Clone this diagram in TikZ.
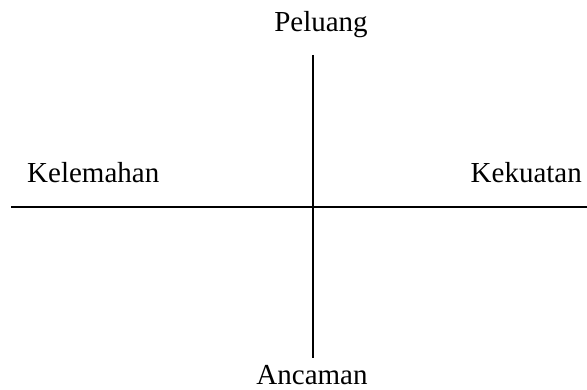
\documentclass[tikz,border=0pt]{standalone}
\usepackage{fontspec}
\setmainfont{Liberation Serif}
\begin{document}
\begin{tikzpicture}[x=1pt,y=1pt,
  lbl/.style={inner sep=0pt,font=\fontsize{29}{34}\selectfont},
  axis/.style={line width=2.2pt}]
\useasboundingbox (0,0) rectangle (587,390);
\node[lbl,anchor=base] (pel) at (321,358) {Peluang};
\node[lbl,anchor=base west] (kel) at (27,207) {Kelemahan};
\node[lbl,anchor=base east] (kek) at (582,207) {Kekuatan};
\node[lbl,anchor=base] (anc) at (312,5) {Ancaman};
\coordinate (vt) at (313,335);
\coordinate (vb) at (313,32);
\coordinate (hl) at (11,183);
\coordinate (hr) at (587,183);
\draw[axis] (vt) -- (vb);
\draw[axis] (hl) -- (hr);
\end{tikzpicture}
\end{document}
